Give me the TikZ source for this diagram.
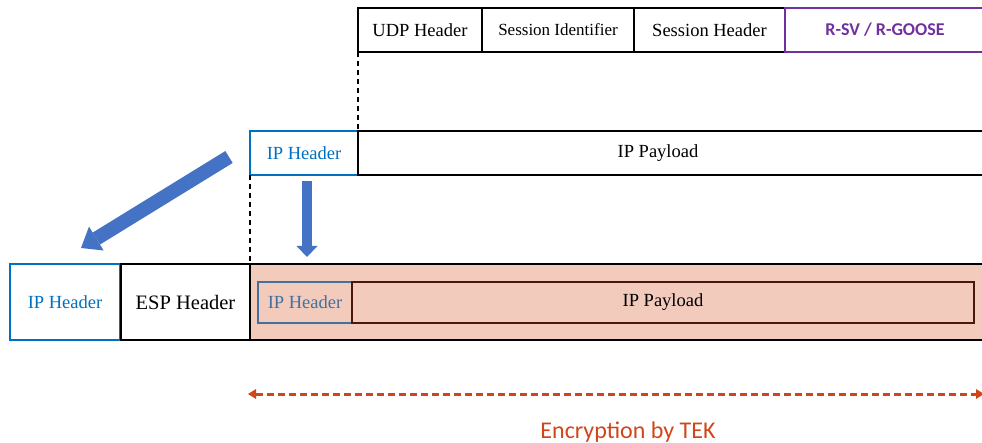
\documentclass[tikz,border=0pt]{standalone}
\usepackage{fontspec}
\setmainfont{Liberation Serif}
\newfontfamily\calibri{Carlito}
\usetikzlibrary{arrows.meta}
\definecolor{ipblue}{HTML}{0070C0}
\definecolor{arrblue}{HTML}{4472C4}
\definecolor{rpurple}{HTML}{7030A0}
\definecolor{salmon}{HTML}{F2CBBD}
\definecolor{innerblue}{HTML}{41719C}
\definecolor{innerbrown}{HTML}{4A1808}
\definecolor{encred}{HTML}{D0461A}
\tikzset{
  box/.style={draw=black, line width=2pt, rectangle, inner sep=0pt, outer sep=0pt, font=\fontsize{18.5}{20}\selectfont},
  bluebox/.style={box, draw=ipblue, text=ipblue},
  txt/.style={inner sep=0pt, font=\fontsize{18.5}{20}\selectfont},
  dashv/.style={draw=black, line width=1.5pt, dash pattern=on 5pt off 4pt},
  blockarrow/.style={draw=arrblue, -{Triangle[line width=0pt]}},
}
\begin{document}
\begin{tikzpicture}[x=1pt, y=-1pt]
\useasboundingbox (0,0) rectangle (982,443);
\clip (0,0) rectangle (982,443);
% top row
\node[box, minimum width=124, minimum height=44] (udp) at (420,30) {UDP Header};
\node[box, minimum width=152, minimum height=44, font=\fontsize{17}{20}\selectfont] (sid) at (558,30) {Session Identifier};
\node[box, minimum width=151, minimum height=44, font=\fontsize{18.5}{20}\selectfont] (shdr) at (709.5,30) {Session Header};
\node[box, draw=rpurple, text=rpurple, minimum width=200, minimum height=44, font=\calibri\bfseries\fontsize{18}{20}\selectfont] (rsv) at (885,30) {R-SV / R-GOOSE};
% middle row
\node[bluebox, minimum width=108, minimum height=44] (iph) at (304,153) {IP Header};
\node[box, minimum width=632, minimum height=44] (ippay) at (674,153) {};
\node[txt] (ippaytxt) at (658,153) {IP Payload};
% bottom row
\node[box, fill=salmon, minimum width=740, minimum height=76] (enc) at (620,302) {};
\node[bluebox, minimum width=110, minimum height=76] (iph2) at (65,302) {IP Header};
\node[box, minimum width=129, minimum height=76, font=\fontsize{20.5}{22}\selectfont] (esp) at (185.5,302) {ESP Header};
\node[box, draw=innerblue, text=innerblue, minimum width=94, minimum height=41] (iph3) at (305,302.5) {IP Header};
\node[box, draw=innerbrown, minimum width=622, minimum height=41] (ippay3) at (663,302.5) {IP Payload};
% dashed guides
\draw[dashv] (udp.south west) -- (ippay.north west);
\draw[dashv] (iph.south west) -- (enc.north west);
% block arrows
\coordinate (d1) at (229,157);
\coordinate (d2) at (81,248);
\draw[blockarrow, line width=14pt, -{Triangle[width=28pt,length=18pt,line width=0pt]}] (d1) -- (d2);
\coordinate (v1) at (307,181);
\coordinate (v2) at (307,257);
\draw[blockarrow, line width=10.5pt, -{Triangle[width=21pt,length=11pt,line width=0pt]}] (v1) -- (v2);
% encryption arrow
\coordinate (e1) at (248,394);
\coordinate (e2) at (984,394);
\draw[encred, line width=3pt, dash pattern=on 7pt off 4pt, {Triangle[width=10pt,length=8pt,line width=0pt]}-{Triangle[width=10pt,length=8pt,line width=0pt]}] (e1) -- (e2);
\node[inner sep=0pt, text=encred, font=\calibri\fontsize{24}{26}\selectfont] (enctxt) at (628,432) {Encryption by TEK};
\end{tikzpicture}
\end{document}
